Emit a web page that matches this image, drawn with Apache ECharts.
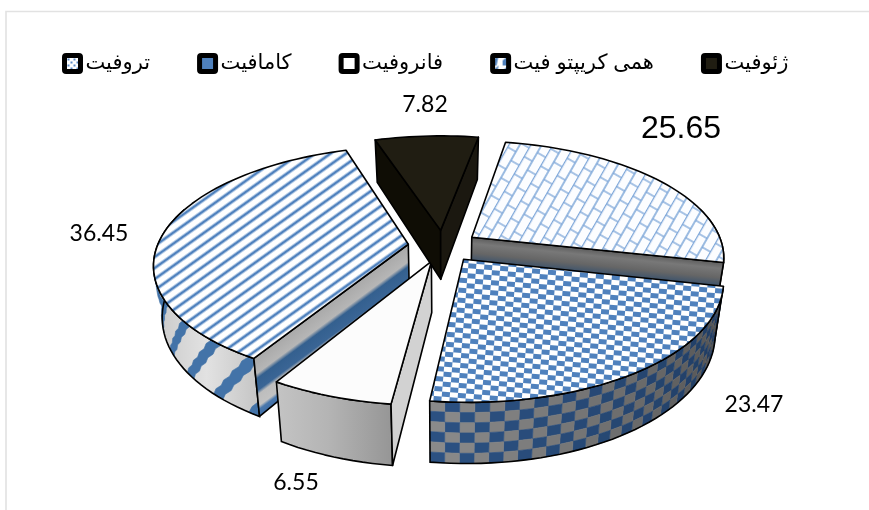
<!DOCTYPE html>
<html><head><meta charset="utf-8">
<style>html,body{margin:0;padding:0;background:#fff}#c{width:869px;height:510px}</style>
<script src="https://cdn.jsdelivr.net/npm/echarts@6/dist/echarts.min.js"></script>
</head><body><div id="c"></div>
<script>
// clockwise order of the pie, starting at START_ANGLE
var pieNames = ['ژئوفیت', 'همی کریپتو فیت', 'تروفیت', 'فانروفیت', 'کامافیت'];
var pieValues = [7.82, 25.65, 23.47, 6.55, 36.45];
var legendOrder = ['تروفیت', 'کامافیت', 'فانروفیت', 'همی کریپتو فیت', 'ژئوفیت'];

// layout constants
var START_ANGLE = -18, CX = 443, CY = 246, R = 251, EXPLODE = 35, K = 0.457, D = 1530, H = 50, BOTTOM_SCALE = 0.97;
var BLUE = '#4f81bd', DARKBLUE = '#34608f';

function tile(w, h, draw) { var c = document.createElement('canvas'); c.width = w; c.height = h; draw(c.getContext('2d')); return c; }
var stripeTile = tile(4, 9, function (g) {
  g.fillStyle = '#fff'; g.fillRect(0, 0, 4, 9);
  g.fillStyle = '#b4cbe6'; g.fillRect(0, 0, 4, 1); g.fillRect(0, 3, 4, 1);
  g.fillStyle = BLUE; g.fillRect(0, 1, 4, 2);
});
var checkTile = tile(16, 10, function (g) { g.fillStyle = '#fff'; g.fillRect(0, 0, 16, 10); g.fillStyle = BLUE; g.fillRect(0, 0, 8, 5); g.fillRect(8, 5, 8, 5); });
var brickTile = tile(20, 19, function (g) {
  g.fillStyle = '#fcfdff'; g.fillRect(0, 0, 20, 19); g.strokeStyle = '#7ba5d8'; g.lineWidth = 1.3; g.beginPath();
  g.moveTo(0, .5); g.lineTo(20, .5); g.moveTo(0, 10); g.lineTo(20, 10);
  g.moveTo(5, 0); g.lineTo(5, 10); g.moveTo(15, 10); g.lineTo(15, 19); g.stroke();
});
var dotTile = tile(6, 6, function (g) { g.fillStyle = '#fff'; g.fillRect(0, 0, 6, 6); g.fillStyle = '#5b8bc8'; g.fillRect(0, 0, 2, 2); g.fillRect(3, 3, 2, 2); });

function project(ang, rad, e, midAng, bottom) {
  var t = ang * Math.PI / 180, m = midAng * Math.PI / 180;
  var X = e * Math.sin(m) + rad * Math.sin(t), Y = e * Math.cos(m) + rad * Math.cos(t);
  var s = D / (D + Y);
  var sx = CX + X * s * (bottom ? BOTTOM_SCALE : 1), sy = CY - Y * K * s + (bottom ? H * s : 0);
  return [sx, sy];
}
function lerp(a, b, t) { return [a[0] + (b[0] - a[0]) * t, a[1] + (b[1] - a[1]) * t]; }
function poly(points, fill, line) {
  var st = { fill: fill };
  if (line === false) { st.stroke = typeof fill === 'string' ? fill : null; st.lineWidth = 0.6; }
  else { st.stroke = '#000'; st.lineWidth = 1.6; st.lineJoin = 'round'; }
  return { type: 'polygon', shape: { points: points }, style: st };
}
function arc(a, b, e, mid, bottom) {
  var n = Math.max(2, Math.ceil(Math.abs(b - a) / 2)), pts = [];
  for (var i = 0; i <= n; i++) pts.push(project(a + (b - a) * i / n, R, e, mid, bottom));
  return pts;
}
function sideOf(tip, top, bot) { return (top[0] - tip[0]) * (bot[1] - tip[1]) - (top[1] - tip[1]) * (bot[0] - tip[0]); }
function normalGradient(p, q, bp, stopsList) {
  var dx = q[0] - p[0], dy = q[1] - p[1], L = Math.hypot(dx, dy), nx = -dy / L, ny = dx / L;
  var d = (bp[0] - p[0]) * nx + (bp[1] - p[1]) * ny;
  return { type: 'linear', global: true, x: p[0], y: p[1], x2: p[0] + nx * d, y2: p[1] + ny * d, colorStops: stopsList };
}
function stops(list) { return list.map(function (s) { return { offset: s[0], color: s[1] }; }); }

var looks = [
  { top: '#201d12', a: '#0f0d05', b: '#1b1810', side: '#14120a' },
  { top: { image: brickTile, repeat: 'repeat', rotation: -1.05 },
    b: stops([[0, '#5d5d5d'], [.12, '#787878'], [.3, '#666'], [.42, '#47586b'], [.52, '#2f3e50'], [1, '#2f3e50']]), side: '#555' },
  { top: { image: checkTile, repeat: 'repeat', rotation: 0.08 }, wall: 'check' },
  { top: '#fcfcfc', a: '#d2d2d2',
    side: { type: 'linear', x: 0, y: 0, x2: 1, y2: 0, colorStops: stops([[0, '#c4c4c4'], [.45, '#b4b4b4'], [1, '#959595']]) } },
  { top: { image: stripeTile, repeat: 'repeat', rotation: -0.62 }, wall: 'stripe',
    a: stops([[0, '#a9a9a9'], [.28, '#b6b6b6'], [.36, DARKBLUE], [.56, '#3a6595'], [.63, '#bdbdbd'], [.82, '#c2c2c2'], [.88, '#4a78ad'], [1, '#3d6ca5']]) }
];

function mixColor(c1, c2, t) {
  var a = parseInt(c1.slice(1), 16), b = parseInt(c2.slice(1), 16), out = [16, 8, 0].map(function (sh) {
    var x = (a >> sh) & 255, y = (b >> sh) & 255; return Math.round(x + (y - x) * t); });
  return 'rgb(' + out.join(',') + ')';
}
function wallCells(a, b, e, mid, out) { // checker outer wall
  var cols = 30, rows = 6;
  for (var c = 0; c < cols; c++) for (var r = 0; r < rows; r++) {
    var a0 = a + (b - a) * c / cols, a1 = a + (b - a) * (c + 1) / cols;
    var t0 = project(a0, R, e, mid), t1 = project(a1, R, e, mid), b0 = project(a0, R, e, mid, true), b1 = project(a1, R, e, mid, true);
    var shade = (a0 - a) / (b - a);
    var col = (c + r) % 2 ? mixColor('#4c4c4c', '#8c8c8c', shade) : mixColor('#1f3a5f', '#2c5283', shade);
    out.push(poly([lerp(t0, b0, r / rows), lerp(t1, b1, r / rows), lerp(t1, b1, (r + 1) / rows), lerp(t0, b0, (r + 1) / rows)], col, false));
  }
}
function wallBands(a, b, e, mid, out) { // stripe outer wall
  for (var ang = a - 12; ang < b; ang += 10.5) {
    var n = 8, left = [], right = [];
    for (var i = 0; i <= n; i++) {
      var v = i / n, da = ang + 12 * v + (i % 2 ? 0.25 : -0.25), w = 3;
      var pa = Math.min(b, Math.max(a, da)), pb = Math.min(b, Math.max(a, da + w));
      left.push(lerp(project(pa, R, e, mid), project(pa, R, e, mid, true), v));
      right.unshift(lerp(project(pb, R, e, mid), project(pb, R, e, mid, true), v));
    }
    out.push(poly(left.concat(right), '#4373a8', false));
  }
}

var total = pieValues.reduce(function (x, y) { return x + y; }, 0);
function sliceRange(i) {
  var a = START_ANGLE;
  for (var k = 0; k < i; k++) a += pieValues[k] / total * 360;
  return [a, a + pieValues[i] / total * 360];
}
function renderSlice(i) {
  return function (params, api) {
    var r = sliceRange(i), a = r[0], b = r[1], mid = (a + b) / 2, look = looks[i];
    var kids = [], tipT = project(0, 0, EXPLODE, mid), tipB = project(0, 0, EXPLODE, mid, true);
    var eT = project(a, R, EXPLODE, mid), eB = project(a, R, EXPLODE, mid, true);
    var fT = project(b, R, EXPLODE, mid), fB = project(b, R, EXPLODE, mid, true);
    var va = Math.max(a, 75), vb = Math.min(b, 288);
    if (vb > va) {
      var top = arc(va, vb, EXPLODE, mid), bot = arc(va, vb, EXPLODE, mid, true).reverse(), base = top.concat(bot);
      var outline = { type: 'polygon', shape: { points: base }, style: { fill: 'none', stroke: '#000', lineWidth: 1.6 } };
      if (look.wall === 'check') { wallCells(va, vb, EXPLODE, mid, kids); kids.push(outline); }
      else if (look.wall === 'stripe') {
        kids.push(poly(base, { type: 'linear', x: 0, y: 0, x2: 1, y2: 0, colorStops: stops([[0, '#c8c8c8'], [.5, '#e2e2e2'], [1, '#c4c4c4']]) }, false));
        wallBands(va, vb, EXPLODE, mid, kids);
        kids.push(outline);
      } else kids.push(poly(base, look.side));
    }
    if (sideOf(tipT, eT, eB) < 0) {
      var fa = Array.isArray(look.a) ? normalGradient(tipT, eT, eB, look.a) : (look.a || '#888');
      kids.push(poly([tipT, eT, eB, tipB], fa));
    }
    if (sideOf(tipT, fT, fB) > 0) {
      var fb = Array.isArray(look.b) ? normalGradient(tipT, fT, fB, look.b) : (look.b || '#888');
      kids.push(poly([tipT, fT, fB, tipB], fb));
    }
    kids.push(poly([tipT].concat(arc(a, b, EXPLODE, mid)), look.top));
    return { type: 'group', children: kids };
  };
}

var drawOrder = [1, 4, 2, 3, 0];
var legendLooks = {
  'ژئوفیت': '#201d12',
  'همی کریپتو فیت': { image: tile(10, 10, function (g) { g.fillStyle = '#fff'; g.fillRect(0, 0, 10, 10); g.fillStyle = BLUE; g.beginPath(); g.moveTo(0, 10); g.lineTo(0, 5); g.lineTo(6, 0); g.lineTo(4, 10); g.fill(); }), repeat: 'repeat' },
  'فانروفیت': '#ffffff',
  'کامافیت': '#4f81bd',
  'تروفیت': { image: dotTile, repeat: 'repeat' }
};
var FONT_LEGEND = '"Liberation Sans","DejaVu Sans",sans-serif';
var labelFonts = { big: '"Liberation Sans",Arial,sans-serif', small: 'Lato,"Open Sans",sans-serif' };
var labelSpots = [[425, 105, 'small'], [681, 129, 'big'], [754, 405, 'small'], [296, 483, 'small'], [99, 234, 'small']];

var series = drawOrder.map(function (i, order) {
  return { type: 'custom', name: pieNames[i], coordinateSystem: 'none', silent: true, animation: false, z: 2 + order,
    data: [[pieValues[i]]], renderItem: renderSlice(i), itemStyle: { color: '#4f81bd' } };
});
var chart = echarts.init(document.getElementById('c'), null, { renderer: 'canvas' });
chart.setOption({
  animation: false, backgroundColor: '#fff',
  legend: { left: 57, top: 48, itemGap: 47, itemWidth: 16, itemHeight: 16, selectedMode: false, orient: 'horizontal',
    textStyle: { fontFamily: FONT_LEGEND, fontSize: 21, color: '#000', padding: [-3, 0, 0, 0] },
    data: legendOrder.map(function (n) { return { name: n, icon: 'path://M1 0H9Q10 0 10 1V9Q10 10 9 10H1Q0 10 0 9V1Q0 0 1 0Z', itemStyle: { color: legendLooks[n], borderColor: '#000', borderWidth: 5 } }; }) },
  graphic: [
    { type: 'polyline', silent: true, shape: { points: [[6, 510], [6, 11.5], [869, 11.5]] }, style: { stroke: '#e2e2e2', lineWidth: 1.6, fill: 'none' }, z: 0 }
  ].concat(labelSpots.map(function (s, i) {
    return { type: 'text', silent: true, x: s[0], y: s[1], z: 20, style: { text: String(pieValues[i]), align: 'center', verticalAlign: 'middle', fill: '#000',
      font: (s[2] === 'big' ? '32px ' + labelFonts.big : '23px ' + labelFonts.small) } };
  })),
  series: series
});
</script></body></html>
